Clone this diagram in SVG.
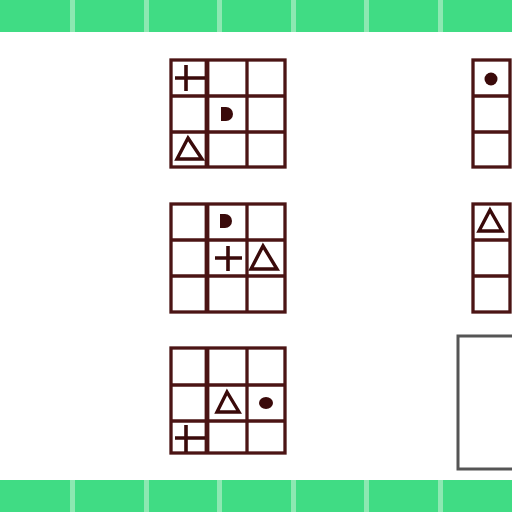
<svg xmlns="http://www.w3.org/2000/svg" width="512" height="512" viewBox="0 0 512 512">
<style>
.bar{fill:#40dc84}
.div{fill:#8de8b2}
.g{fill:none;stroke:#4b1414;stroke-width:3.3}
.gt{fill:none;stroke:#4b1414;stroke-width:4.8}
.sym{fill:none;stroke:#3a0a0a;stroke-width:3.6}
.tri{fill:#fff;stroke:#3a0a0a;stroke-width:3.4;stroke-linejoin:miter}
.dot{fill:#3a0a0a}
.box{fill:#fff;stroke:#555;stroke-width:3}
</style>
<rect width="512" height="512" fill="#fff"/>
<g id="top-bar">
<rect class="bar" x="0" y="0" width="512" height="32"/>
<rect class="div" x="70" y="0" width="5" height="32"/>
<rect class="div" x="144" y="0" width="5" height="32"/>
<rect class="div" x="217" y="0" width="5" height="32"/>
<rect class="div" x="291" y="0" width="5" height="32"/>
<rect class="div" x="364" y="0" width="5" height="32"/>
<rect class="div" x="438" y="0" width="5" height="32"/>
</g>
<g id="bottom-bar">
<rect class="bar" x="0" y="480" width="512" height="32"/>
<rect class="div" x="70" y="480" width="5" height="32"/>
<rect class="div" x="144" y="480" width="5" height="32"/>
<rect class="div" x="217" y="480" width="5" height="32"/>
<rect class="div" x="291" y="480" width="5" height="32"/>
<rect class="div" x="364" y="480" width="5" height="32"/>
<rect class="div" x="438" y="480" width="5" height="32"/>
</g>
<g id="grid1">
<rect class="g" x="171" y="60" width="114" height="107"/>
<line class="gt" x1="207" y1="60" x2="207" y2="167"/>
<line class="g" x1="247" y1="60" x2="247" y2="167"/>
<line class="g" x1="171" y1="96" x2="285" y2="96"/>
<line class="g" x1="171" y1="132" x2="285" y2="132"/>
<path class="sym" d="M175,78H205M186,65V91"/>
<path class="dot" d="M221,107H226A7,7 0 0 1 226,121H221Z"/>
<path class="tri" d="M188,138L202,159H177Z"/>
</g>
<g id="grid2">
<rect class="g" x="171" y="204" width="114" height="108"/>
<line class="gt" x1="207" y1="204" x2="207" y2="312"/>
<line class="g" x1="247" y1="204" x2="247" y2="312"/>
<line class="g" x1="171" y1="240" x2="285" y2="240"/>
<line class="g" x1="171" y1="276" x2="285" y2="276"/>
<path class="dot" d="M220,214H225A7,7 0 0 1 225,228H220Z"/>
<path class="sym" d="M215,258H242M228,246V271"/>
<path class="tri" d="M263,246L277,269H251Z"/>
</g>
<g id="grid3">
<rect class="g" x="171" y="348" width="114" height="105"/>
<line class="gt" x1="207" y1="348" x2="207" y2="453"/>
<line class="g" x1="247" y1="348" x2="247" y2="453"/>
<line class="g" x1="171" y1="385" x2="285" y2="385"/>
<line class="g" x1="171" y1="421" x2="285" y2="421"/>
<path class="tri" d="M227,392L239,412H217Z"/>
<ellipse class="dot" cx="266" cy="403" rx="7" ry="6"/>
<path class="sym" d="M175,438H205M186,425V452"/>
</g>
<g id="grid-right1">
<rect class="g" x="473" y="60" width="37" height="107"/>
<line class="g" x1="473" y1="96" x2="510" y2="96"/>
<line class="g" x1="473" y1="132" x2="510" y2="132"/>
<circle class="dot" cx="491" cy="79" r="6.5"/>
</g>
<g id="grid-right2">
<rect class="g" x="473" y="204" width="37" height="108"/>
<line class="g" x1="473" y1="240" x2="510" y2="240"/>
<line class="g" x1="473" y1="276" x2="510" y2="276"/>
<path class="tri" d="M490,210L502,231H479Z"/>
</g>
<g id="answer-box">
<rect class="box" x="458" y="336" width="70" height="133"/>
</g>
</svg>
